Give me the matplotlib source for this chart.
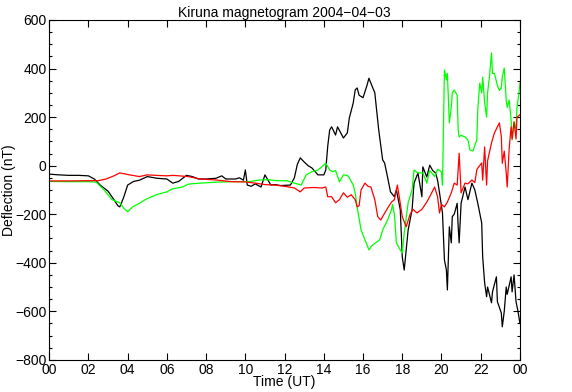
import numpy as np
import matplotlib
matplotlib.use("Agg")
import matplotlib.pyplot as plt
from matplotlib.ticker import MultipleLocator, FuncFormatter

plt.rcParams['font.family'] = ['Liberation Sans', 'DejaVu Sans']

# (hour UT, deflection nT)
black = [(0, -35), (0.5, -38), (1, -40), (1.5, -40), (2, -42), (2.3, -55), (2.6, -80),
         (3.0, -105), (3.3, -140), (3.5, -165), (3.6, -170), (3.8, -130), (4.0, -80),
         (4.3, -65), (4.6, -60), (5.0, -45), (5.5, -52), (6.0, -55), (6.3, -72), (6.6, -65),
         (7.0, -40), (7.3, -45), (7.6, -55), (8.0, -55), (8.5, -52), (8.8, -42), (9.0, -55),
         (9.5, -55), (9.7, -50), (9.9, -60), (10.0, -18), (10.1, -80), (10.3, -85),
         (10.5, -75), (10.8, -88), (11.0, -38), (11.3, -80), (11.5, -78), (11.8, -82),
         (12.3, -80), (12.5, -50), (12.65, 5), (12.8, 32), (13.0, 15), (13.2, 0),
         (13.4, -10), (13.7, -38), (14.0, -38), (14.1, -18), (14.2, 80), (14.3, 147),
         (14.4, 160), (14.6, 126), (14.7, 160), (15.0, 114), (15.2, 135), (15.3, 196),
         (15.5, 258), (15.6, 312), (15.7, 320), (15.8, 290), (16.0, 280), (16.2, 330),
         (16.3, 360), (16.4, 340), (16.6, 300), (16.8, 147), (17.0, 24), (17.1, 11),
         (17.25, -47), (17.4, -108), (17.6, -128), (17.7, -100), (17.9, -182), (18.0, -376),
         (18.1, -430), (18.3, -265), (18.5, -182), (18.6, -72), (18.8, -30), (19.0, -128),
         (19.05, -5), (19.25, -47), (19.4, 2), (19.55, -20), (19.7, -30), (19.8, -60),
         (19.9, -112), (20.05, -195), (20.15, -388), (20.25, -430), (20.3, -512),
         (20.4, -252), (20.5, -318), (20.55, -210), (20.65, -200), (20.8, -155),
         (20.85, -250), (20.9, -318), (21.0, -155), (21.2, -88), (21.35, -140),
         (21.55, -72), (21.7, -100), (21.85, -155), (22.05, -236), (22.1, -376),
         (22.2, -483), (22.3, -540), (22.35, -500), (22.55, -565), (22.6, -520),
         (22.8, -458), (22.85, -560), (23.05, -607), (23.1, -664), (23.2, -600),
         (23.3, -500), (23.35, -530), (23.55, -458), (23.6, -520), (23.7, -450),
         (23.8, -560), (23.9, -600), (24.0, -650)]

green = [(0, -65), (1, -66), (2, -66), (2.4, -68), (2.8, -100), (3.2, -140), (3.6, -153),
         (3.8, -175), (4.0, -190), (4.25, -170), (4.6, -155), (4.9, -140), (5.45, -120),
         (6.0, -108), (6.3, -95), (6.8, -88), (7.1, -76), (7.7, -72), (8.5, -68),
         (9.35, -66), (10.2, -66), (10.7, -59), (11.2, -58), (11.6, -62), (12.1, -62),
         (12.5, -72), (12.85, -80), (13.1, -38), (13.4, -25), (13.7, -18), (13.9, -5),
         (14.1, 10), (14.3, -18), (14.45, -25), (14.6, -20), (14.8, -67), (15.0, -38),
         (15.2, -40), (15.3, -50), (15.5, -80), (15.6, -112), (15.7, -170), (15.9, -265),
         (16.1, -306), (16.3, -347), (16.45, -330), (16.6, -320), (16.85, -306),
         (17.0, -265), (17.25, -224), (17.45, -182), (17.5, -160), (17.6, -200),
         (17.7, -318), (17.9, -347), (18.0, -360), (18.1, -277), (18.3, -153),
         (18.5, -100), (18.6, -18), (18.8, -30), (19.05, -30), (19.25, -72), (19.4, -20),
         (19.65, -45), (19.8, -15), (20.0, -25), (20.05, -80), (20.1, 150), (20.15, 394),
         (20.25, 353), (20.3, 380), (20.4, 176), (20.5, 242), (20.55, 300), (20.65, 312),
         (20.8, 290), (20.85, 147), (20.9, 118), (21.0, 125), (21.2, 118), (21.35, 106),
         (21.45, 65), (21.6, 60), (21.8, 106), (21.85, 230), (21.95, 340), (22.05, 300),
         (22.1, 365), (22.2, 260), (22.3, 200), (22.35, 300), (22.45, 370), (22.55, 464),
         (22.6, 380), (22.7, 380), (22.85, 330), (22.95, 310), (23.05, 320), (23.1, 365),
         (23.2, 402), (23.3, 270), (23.35, 240), (23.45, 270), (23.55, 188), (23.6, 106),
         (23.7, 180), (23.8, 150), (23.85, 240), (23.95, 300), (24.0, 340)]

red = [(0, -63), (1, -63), (2, -62), (2.5, -62), (2.9, -55), (3.3, -42), (3.6, -30),
       (4.1, -38), (4.6, -45), (5.0, -38), (5.45, -40), (6.0, -42), (6.3, -40), (7.1, -45),
       (7.7, -55), (8.5, -59), (9.3, -66), (10.0, -67), (10.5, -72), (11.0, -78),
       (11.5, -80), (12.0, -85), (12.5, -92), (12.8, -108), (13.0, -92), (13.5, -90),
       (13.9, -92), (14.1, -88), (14.2, -128), (14.4, -128), (14.6, -153), (14.8, -140),
       (15.0, -112), (15.2, -130), (15.4, -120), (15.6, -140), (15.7, -170), (15.8, -165),
       (15.9, -100), (16.1, -72), (16.25, -85), (16.4, -88), (16.6, -140), (16.75, -210),
       (16.9, -224), (17.2, -182), (17.45, -150), (17.6, -140), (17.75, -80),
       (17.85, -130), (18.0, -210), (18.2, -252), (18.4, -200), (18.55, -180),
       (18.75, -195), (19.0, -180), (19.25, -150), (19.4, -128), (19.65, -88),
       (19.8, -128), (19.9, -195), (20.0, -160), (20.15, -170), (20.3, -150),
       (20.5, -112), (20.65, -72), (20.8, -80), (20.9, 51), (21.0, -112), (21.2, -72),
       (21.35, -75), (21.55, -59), (21.7, -70), (21.8, -18), (21.85, -10), (22.05, 11),
       (22.1, -60), (22.2, 77), (22.3, -80), (22.35, 20), (22.55, 94), (22.7, 135),
       (22.85, 160), (22.95, 176), (23.05, 120), (23.1, 10), (23.2, 60), (23.3, -30),
       (23.35, -88), (23.45, 70), (23.55, 160), (23.6, 110), (23.7, 180), (23.8, 110),
       (23.85, 200), (24.0, 210)]

series = [(black, 'black'), (green, '#00ff00'), (red, '#ff0000')]

fig = plt.figure(figsize=(5.72, 3.92), dpi=100)
ax = fig.add_axes([0.086, 0.082, 0.823, 0.867])

for data, col in series:
    d = np.array(data)
    ax.plot(d[:, 0], d[:, 1], color=col, lw=0.9)

ax.set_xlim(0, 24)
ax.set_ylim(-800, 600)
ax.xaxis.set_major_locator(MultipleLocator(2))
ax.yaxis.set_major_locator(MultipleLocator(200))
ax.yaxis.set_minor_locator(MultipleLocator(50))
ax.xaxis.set_major_formatter(FuncFormatter(lambda x, p: '%02d' % (int(round(x)) % 24)))
ax.yaxis.set_major_formatter(FuncFormatter(lambda y, p: ('%d' % y).replace('-', '\u2212')))
ax.tick_params(which='both', direction='in', top=True, right=True, labelsize=10, width=0.8)
ax.tick_params(which='major', length=5, pad=2)
ax.tick_params(which='minor', length=2.5)
for s in ax.spines.values():
    s.set_linewidth(0.8)

ax.set_title('Kiruna magnetogram 2004\u221204\u221203', fontsize=10, pad=1)
ax.set_xlabel('Time (UT)', fontsize=10, labelpad=-1)
ax.set_ylabel('Deflection (nT)', fontsize=10, va='center')
ax.yaxis.set_label_coords(-0.085, 0.5)

fig.savefig('out.png', dpi=100)
